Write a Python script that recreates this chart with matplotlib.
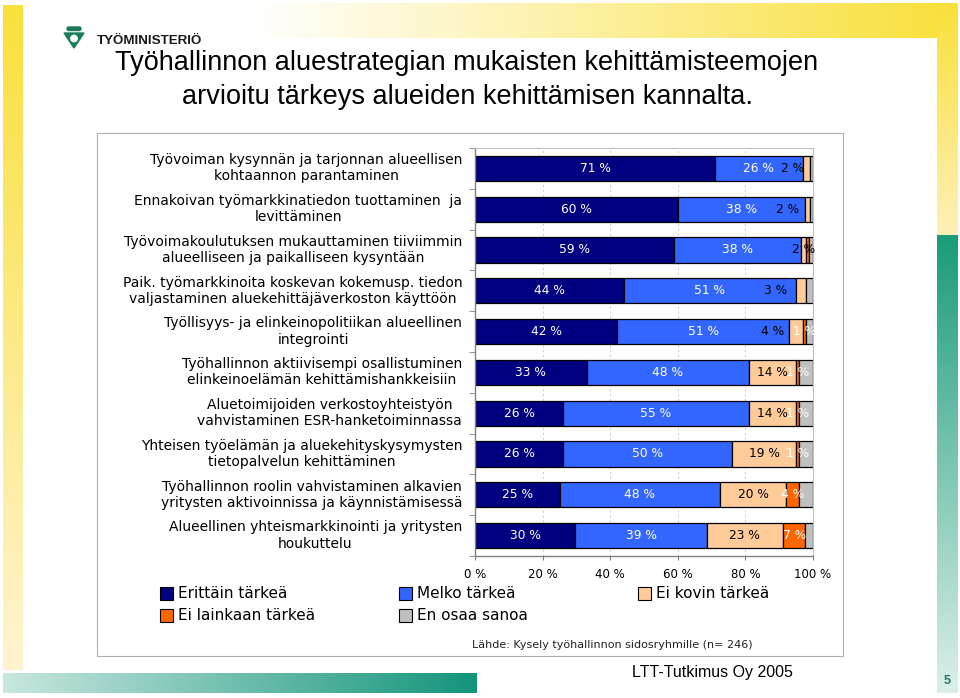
import matplotlib
matplotlib.use("Agg")
import matplotlib.pyplot as plt
import numpy as np
from matplotlib.patches import Rectangle, Polygon, Circle, FancyBboxPatch

# ---------------- data ----------------
categories = [
    "Työvoiman kysynnän ja tarjonnan alueellisen\nkohtaannon parantaminen",
    "Ennakoivan työmarkkinatiedon tuottaminen  ja\nlevittäminen",
    "Työvoimakoulutuksen mukauttaminen tiiviimmin\nalueelliseen ja paikalliseen kysyntään",
    "Paik. työmarkkinoita koskevan kokemusp. tiedon\nvaljastaminen aluekehittäjäverkoston käyttöön",
    "Työllisyys- ja elinkeinopolitiikan alueellinen\nintegrointi",
    "Työhallinnon aktiivisempi osallistuminen\nelinkeinoelämän kehittämishankkeisiin",
    "Aluetoimijoiden verkostoyhteistyön\nvahvistaminen ESR-hanketoiminnassa",
    "Yhteisen työelämän ja aluekehityskysymysten\ntietopalvelun kehittäminen",
    "Työhallinnon roolin vahvistaminen alkavien\nyritysten aktivoinnissa ja käynnistämisessä",
    "Alueellinen yhteismarkkinointi ja yritysten\nhoukuttelu",
]
series_names = ["Erittäin tärkeä", "Melko tärkeä", "Ei kovin tärkeä",
                "Ei lainkaan tärkeä", "En osaa sanoa"]
erittain = [71, 60, 59, 44, 42, 33, 26, 26, 25, 29.6]
melko    = [26, 37.5, 37.5, 51, 51, 48, 55, 50, 47.5, 39]
eikovin  = [2, 1.5, 1.5, 3, 4, 14, 14, 19, 19.5, 22.5]
eilain   = [0, 0, 0.8, 0, 1, 1, 1, 1, 4, 6.6]
enosaa   = [1, 1, 1.2, 2, 2, 4, 4, 4, 4, 2.3]
x_ticks = [0, 20, 40, 60, 80, 100]
x_tick_labels = ["0 %", "20 %", "40 %", "60 %", "80 %", "100 %"]

title = ("Työhallinnon aluestrategian mukaisten kehittämisteemojen\n"
         "arvioitu tärkeys alueiden kehittämisen kannalta.")
source = "Lähde: Kysely työhallinnon sidosryhmille (n= 246)"

# ---------------- styles ----------------
colors = ["#000080", "#3366FF", "#FFCC99", "#FF6600", "#C0C0C0"]
label_colors = ["white", "white", "black", "white", None]
# manual label shift (in % units) for the small "Ei kovin tärkeä" labels
peach_label_shift = [-4, -5.7, 0, -7.7, -7, 0, 0, 0, 0, 0]

W, H = 960, 698
fig = plt.figure(figsize=(W / 100, H / 100), dpi=100)

# background decoration axes in pixel coordinates
bg = fig.add_axes([0, 0, 1, 1])
bg.set_xlim(0, W)
bg.set_ylim(H, 0)
bg.axis("off")


def grad(x0, x1, y0, y1, c0, c1, horizontal=True):
    c0 = np.array(matplotlib.colors.to_rgb(c0))
    c1 = np.array(matplotlib.colors.to_rgb(c1))
    t = np.linspace(0, 1, 256)[:, None]
    arr = c0 * (1 - t) + c1 * t
    img = arr[None, :, :] if horizontal else arr[:, None, :]
    bg.imshow(img, extent=[x0, x1, y1, y0], aspect="auto",
              interpolation="bilinear", zorder=0)


grad(250, 958, 3, 38, "#FFFFFF", "#F9E03A")                 # top band
grad(937, 958, 3, 235, "#F9E03A", "#FDF0B8", horizontal=False)  # right yellow
grad(937, 958, 235, 693, "#1A9C78", "#DCEFEA", horizontal=False)  # right teal
grad(3, 23, 5, 670, "#FAE03C", "#FFF4D0", horizontal=False)  # left bar
grad(3, 477, 673, 693, "#C8E7DF", "#14957A")                 # bottom band

# logo
green = "#1B7A5C"
bg.add_patch(FancyBboxPatch((67, 27), 14, 3.5, boxstyle="round,pad=0,rounding_size=1.7",
                            color=green, zorder=2))
bg.add_patch(Polygon([(64, 33), (84, 33), (74, 48)], closed=True, color=green, zorder=2))
bg.add_patch(Circle((74, 38.5), 3.2, color="white", zorder=3))
bg.text(97, 41, "TYÖMINISTERIÖ", fontsize=9.6, fontweight="bold",
        family="Liberation Sans", color="#1a1a1a", va="center", ha="left")

# title
bg.text(467, 80, title, fontsize=19.5, family="Liberation Sans", ha="center",
        va="center", linespacing=1.38, color="black")

# chart frame
bg.add_patch(Rectangle((97, 133), 746, 523, facecolor="white",
                       edgecolor="#B0B0B0", lw=0.8, zorder=1))

# footer texts
bg.text(472, 645, source, fontsize=8, family="DejaVu Sans", color="#222222",
        ha="left", va="center", zorder=3)
bg.text(632, 673, "LTT-Tutkimus Oy 2005", fontsize=11.5, family="Liberation Sans",
        color="black", ha="left", va="center", zorder=3)
bg.text(947, 681, "5", fontsize=9, fontweight="bold", family="Liberation Sans",
        color="#1A7A6A", ha="center", va="center", zorder=3)

# legend (manual)
leg_pos = [(160, 593), (399, 593), (638, 593), (160, 615), (399, 615)]
for (lx, ly), name, col in zip(leg_pos, series_names, colors):
    bg.add_patch(Rectangle((lx, ly - 6.5), 13, 13, facecolor=col,
                           edgecolor="black", lw=0.8, zorder=3))
    bg.text(lx + 18, ly, name, fontsize=11, family="DejaVu Sans",
            ha="left", va="center", zorder=3)

# ---------------- main chart ----------------
ax = fig.add_axes([475 / W, 1 - 556 / H, 338 / W, 408 / H])
ax.set_zorder(5)
series = [erittain, melko, eikovin, eilain, enosaa]
n = len(categories)
y = np.arange(n)
left = np.zeros(n)
for si, (vals, col) in enumerate(zip(series, colors)):
    vals = np.array(vals, dtype=float)
    mask = vals > 0
    ax.barh(y[mask], vals[mask], left=left[mask], height=0.62, color=col,
            edgecolor="black", lw=0.9, zorder=2)
    lc = label_colors[si]
    if lc is not None:
        for i in range(n):
            v = vals[i]
            if v >= 1:
                xc = left[i] + v / 2
                if si == 2:
                    xc += peach_label_shift[i]
                ax.text(xc, y[i], f"{int(v + 0.5)} %", color=lc, fontsize=8.8,
                        family="DejaVu Sans", ha="center", va="center", zorder=4)
    left += vals

ax.set_xlim(0, 100)
ax.set_ylim(n - 0.5, -0.5)
ax.set_xticks(x_ticks)
ax.set_xticklabels(x_tick_labels, fontsize=8.5, family="DejaVu Sans")
ax.set_yticks([])
ax.set_yticks(np.arange(-0.5, n, 1.0), minor=True)
ax.tick_params(axis="y", which="minor", length=4, color="#808080", left=True)
ax.tick_params(axis="x", length=3, color="#808080", pad=6)
ax.xaxis.grid(True, linestyle=(0, (2, 3)), color="#C8C8C8", lw=0.7)
ax.set_axisbelow(True)
for s in ["top", "right"]:
    ax.spines[s].set_color("#C0C0C0")
    ax.spines[s].set_linewidth(0.8)
for s in ["left", "bottom"]:
    ax.spines[s].set_color("#808080")
    ax.spines[s].set_linewidth(1.0)

for i, cat in enumerate(categories):
    ax.text(-0.038, i, cat, transform=ax.get_yaxis_transform(), ha="right",
            va="center", multialignment="center", fontsize=10,
            family="DejaVu Sans", linespacing=1.2, color="black")

fig.savefig("out.png", dpi=100)
